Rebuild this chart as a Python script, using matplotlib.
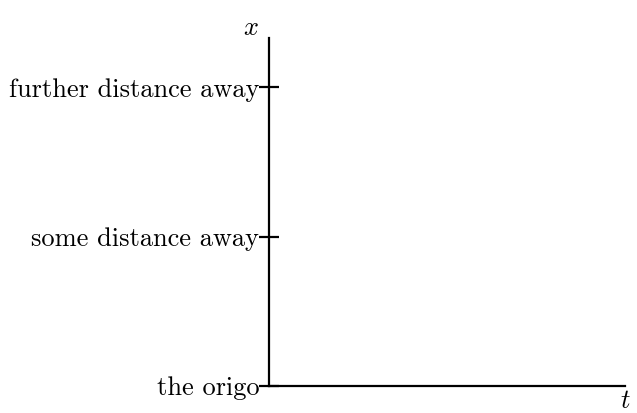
import matplotlib
matplotlib.use('Agg')
import matplotlib.pyplot as plt

# distance markers on the x axis
tick_positions = [0, 1, 2]
tick_labels = ['the origo', 'some distance away', 'further distance away']

plt.rcParams['font.family'] = ['cmr10']
plt.rcParams['mathtext.fontset'] = 'cm'
plt.rcParams['axes.formatter.use_mathtext'] = True

fig = plt.figure(figsize=(6.37, 4.13), dpi=100)
ax = fig.add_axes([269 / 637, 27 / 413, 356 / 637, 348 / 413])

ax.set_xlim(0, 1)
ax.set_ylim(0, 2.33)

for side in ['top', 'right']:
    ax.spines[side].set_visible(False)
for side in ['left', 'bottom']:
    ax.spines[side].set_linewidth(1.6)

ax.set_xticks([])
ax.set_yticks(tick_positions)
ax.set_yticklabels(tick_labels, fontsize=19)
ax.tick_params(axis='y', direction='inout', length=14, width=1.6, pad=0)

ax.text(-0.028, 0.995, '$x$', transform=ax.transAxes, fontsize=19,
        ha='right', va='bottom')
ax.text(1.0, -0.01, '$t$', transform=ax.transAxes, fontsize=19,
        ha='center', va='top')

fig.savefig('out.png', dpi=100)
